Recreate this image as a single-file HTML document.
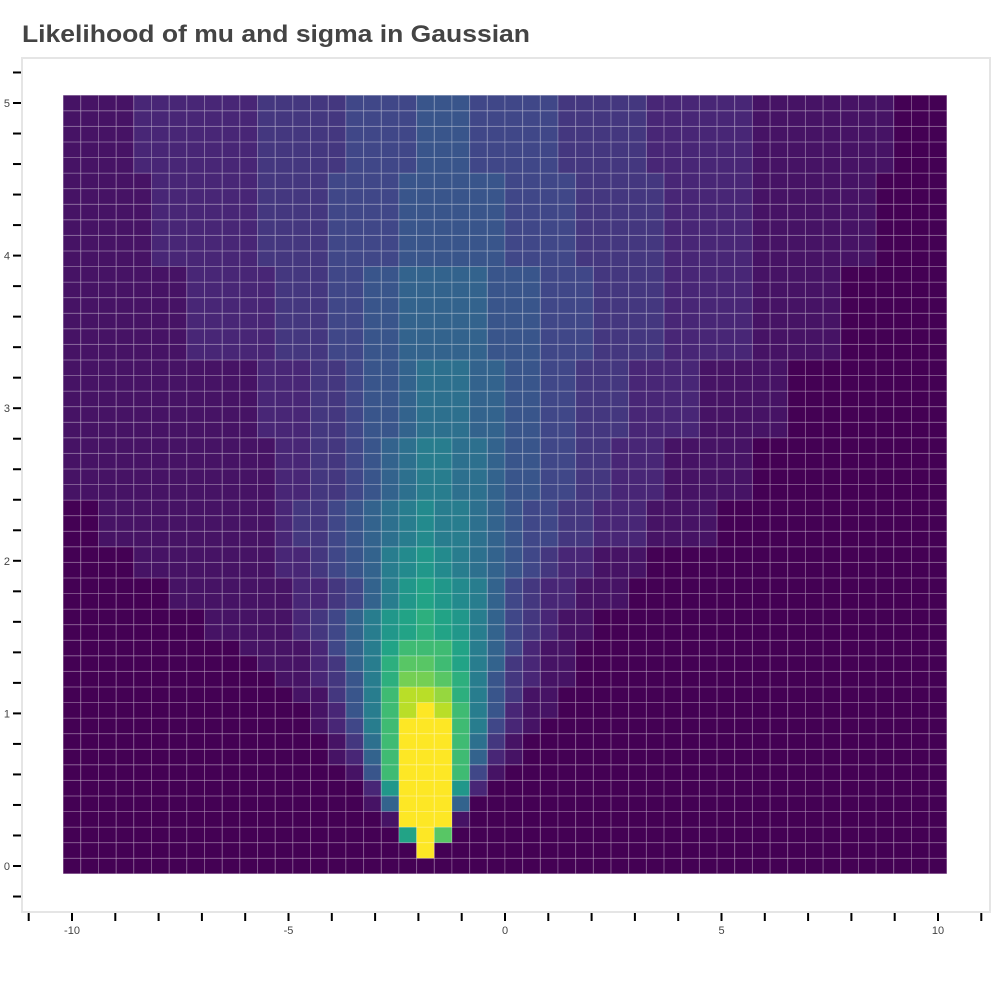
<!DOCTYPE html>
<html><head><meta charset="utf-8"><style>
html,body{margin:0;padding:0;background:#fff;}
svg{display:block;font-family:"Liberation Sans",sans-serif;}
</style></head><body>
<svg id="chart" width="1000" height="1000">
<text x="22" y="42" font-size="24" font-weight="bold" fill="#444" textLength="508" lengthAdjust="spacingAndGlyphs">Likelihood of mu and sigma in Gaussian</text>
<rect x="22" y="58" width="968" height="854" fill="none" stroke="#e5e5e5" stroke-width="2"/>
<g id="cells"></g>
<g id="yaxis"></g>
<g id="xaxis"></g>
</svg>
<script>
// mu grid (50 columns, -10..10) and sigma grid (50 rows, 0..5)
const muMin = -10, muMax = 10, muCount = 50;
const sigmaMin = 0, sigmaMax = 5, sigmaCount = 50;
// likelihood level per cell (0..19, char code), each row = [first column, levels...]; rest = 0
const levelChars = "0123456789ABCDEFGHIJ";
const likelihoodRows = [
 [0,""],
 [20,"J"],
 [19,"BJE"],
 [18,"1JJJ1"],
 [17,"16JJJ6"],
 [17,"2AJJJA2"],
 [16,"15DJJJD41"],
 [15,"126DJJJD621"],
 [15,"137DJJJD731"],
 [14,"1248DJJJD8421"],
 [14,"1258DHJHD85211"],
 [13,"11358DHHGC85311"],
 [12,"112358CFFEC853211"],
 [11,"1112368CEEDB863211"],
 [10,"11112468BDDDB864211"],
 [8,"1111123468ABCBA8643211"],
 [8,"1111123468ABCBA8643211"],
 [6,"1111111223468ABA9864322111"],
 [6,"1111111223468ABA9864322111"],
 [4,"1111111122345689A987654322111"],
 [4,"1111111122345689A987654322111"],
 [2,"11111111112334567898876544332221111"],
 [2,"11111111112334567898876544332221111"],
 [2,"11111111112334567898876544332221111"],
 [0,"111111111111223345678877655443322211111"],
 [0,"111111111111223345678877655443322211111"],
 [0,"111111111111223345678877655443322211111"],
 [0,"111111111111223345678877655443322211111"],
 [0,"11111111111222334556777665544333222211111"],
 [0,"11111111111222334556777665544333222211111"],
 [0,"11111111111222334556777665544333222211111"],
 [0,"11111111111222334556777665544333222211111"],
 [0,"11111111111222334556777665544333222211111"],
 [0,"11111112222233344556666655544433332222211111"],
 [0,"11111112222233344556666655544433332222211111"],
 [0,"11111112222233344556666655544433332222211111"],
 [0,"11111112222233344556666655544433332222211111"],
 [0,"11111112222233344556666655544433332222211111"],
 [0,"11111112222233344556666655544433332222211111"],
 [0,"1111122222233334444555555444433333222221111111"],
 [0,"1111122222233334444555555444433333222221111111"],
 [0,"1111122222233334444555555444433333222221111111"],
 [0,"1111122222233334444555555444433333222221111111"],
 [0,"1111122222233334444555555444433333222221111111"],
 [0,"1111122222233334444555555444433333222221111111"],
 [0,"111122222223333344445554444433333222222111111110"],
 [0,"111122222223333344445554444433333222222111111110"],
 [0,"111122222223333344445554444433333222222111111110"],
 [0,"111122222223333344445554444433333222222111111110"],
 [0,"111122222223333344445554444433333222222111111110"]
];
const yTickLabels = ["0","1","2","3","4","5"];
const yTickValues = [0,1,2,3,4,5];
const xTickLabels = ["-10","-5","0","5","10"];
const xTickValues = [-10,-5,0,5,10];

const NS = "http://www.w3.org/2000/svg";
const muStep = (muMax - muMin) / (muCount - 1);
const sigmaStep = (sigmaMax - sigmaMin) / (sigmaCount - 1);
function xScale(mu){ return 72 + (mu + 10) * 43.3; }
function yScale(s){ return 866 - s * 152.6; }

const vir = [[68,1,84],[72,36,117],[65,68,135],[53,95,141],[42,120,142],[33,145,140],[34,168,132],[68,191,112],[122,209,81],[189,223,38],[253,231,37]];
function viridis(t){
  t = Math.max(0, Math.min(1, t));
  const f = t * 10, i = Math.min(9, Math.floor(f)), r = f - i;
  const a = vir[i], b = vir[i+1];
  return "rgb(" + [0,1,2].map(k => Math.round(a[k] + (b[k]-a[k]) * r)).join(",") + ")";
}

const cells = document.getElementById("cells");
const cw = xScale(muStep) - xScale(0);
const ch = yScale(0) - yScale(sigmaStep);
for (let j = 0; j < sigmaCount; j++) {
  const row = likelihoodRows[j] || [0,""];
  for (let i = 0; i < muCount; i++) {
    const k = i - row[0];
    const c = (k >= 0 && k < row[1].length) ? row[1][k] : "0";
    const lvl = levelChars.indexOf(c);
    const mu = muMin + i * muStep, s = sigmaMin + j * sigmaStep;
    const r = document.createElementNS(NS, "rect");
    r.setAttribute("x", (xScale(mu) - cw/2).toFixed(2));
    r.setAttribute("y", (yScale(s) - ch/2).toFixed(2));
    r.setAttribute("width", cw.toFixed(2));
    r.setAttribute("height", ch.toFixed(2));
    r.setAttribute("fill", viridis(lvl / 19));
    r.setAttribute("stroke", "rgba(255,255,255,0.22)");
    r.setAttribute("stroke-width", "1");
    
    
    cells.appendChild(r);
  }
}

const yaxis = document.getElementById("yaxis");
for (let m = -1; m <= 26; m++) {
  const v = m * 0.2, y = yScale(v);
  if (y < 60 || y > 910) continue;
  const t = document.createElementNS(NS, "line");
  t.setAttribute("x1", 13); t.setAttribute("x2", 21);
  t.setAttribute("y1", y); t.setAttribute("y2", y);
  t.setAttribute("stroke", "#000"); t.setAttribute("stroke-width", "2");
  
  
  yaxis.appendChild(t);
}
yTickValues.forEach((v, idx) => {
  const tx = document.createElementNS(NS, "text");
  tx.setAttribute("x", 10); tx.setAttribute("y", yScale(v) + 4);
  tx.setAttribute("text-anchor", "end"); tx.setAttribute("font-size", "11"); tx.setAttribute("fill", "#444");
  tx.textContent = yTickLabels[idx];
  
  
  yaxis.appendChild(tx);
});
const xaxis = document.getElementById("xaxis");
for (let v = -11; v <= 11; v++) {
  const x = xScale(v);
  if (x < 24 || x > 990) continue;
  const t = document.createElementNS(NS, "line");
  t.setAttribute("x1", x); t.setAttribute("x2", x);
  t.setAttribute("y1", 913); t.setAttribute("y2", 921);
  t.setAttribute("stroke", "#000"); t.setAttribute("stroke-width", "2");
  
  
  xaxis.appendChild(t);
}
xTickValues.forEach((v, idx) => {
  const tx = document.createElementNS(NS, "text");
  tx.setAttribute("x", xScale(v)); tx.setAttribute("y", 934);
  tx.setAttribute("text-anchor", "middle"); tx.setAttribute("font-size", "11"); tx.setAttribute("fill", "#444");
  tx.textContent = xTickLabels[idx];
  
  
  xaxis.appendChild(tx);
});
</script>
</body></html>
